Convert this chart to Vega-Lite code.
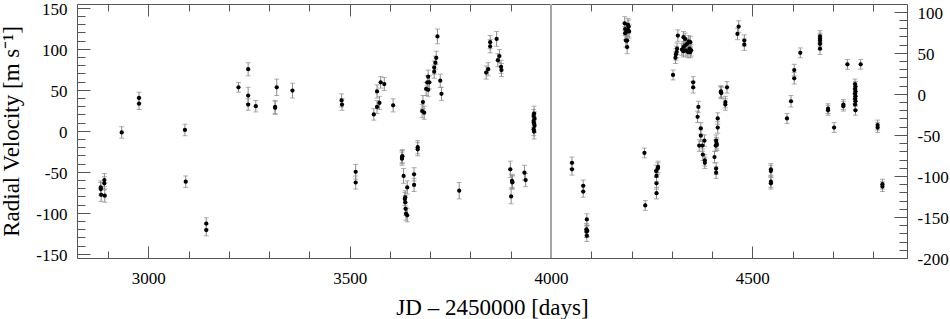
{
  "$schema": "https://vega.github.io/schema/vega-lite/v6.json",
  "width": 830,
  "height": 254,
  "autosize": {"type": "none"},
  "padding": {"left": 77, "top": 4, "right": 43, "bottom": 61},
  "background": "white",
  "config": {
    "view": {"stroke": null},
    "font": "Liberation Serif",
    "axis": {
      "domainColor": "#555",
      "tickColor": "#555",
      "labelColor": "black",
      "labelFont": "Liberation Serif",
      "labelFontSize": 17,
      "labelOverlap": false,
      "titleFont": "Liberation Serif",
      "titleFontSize": 23,
      "titleFontWeight": "normal",
      "titleColor": "black",
      "grid": false
    }
  },
  "datasets": {
    "rv": [
      {"jd": 2882, "rv": -69, "e": 8}, {"jd": 2882, "rv": -71, "e": 8}, {"jd": 2883, "rv": -78, "e": 8},
      {"jd": 2891, "rv": -60, "e": 8}, {"jd": 2891, "rv": -64, "e": 8}, {"jd": 2892, "rv": -79, "e": 8},
      {"jd": 2934, "rv": -2, "e": 7},
      {"jd": 2977, "rv": 40, "e": 7}, {"jd": 2977, "rv": 33, "e": 7},
      {"jd": 3091, "rv": 1, "e": 7}, {"jd": 3093, "rv": -62, "e": 7},
      {"jd": 3144, "rv": -113, "e": 7}, {"jd": 3144, "rv": -121, "e": 7},
      {"jd": 3224, "rv": 53, "e": 6}, {"jd": 3248, "rv": 75, "e": 8}, {"jd": 3248, "rv": 43, "e": 10},
      {"jd": 3248, "rv": 32, "e": 7}, {"jd": 3267, "rv": 30, "e": 7}, {"jd": 3315, "rv": 29, "e": 8},
      {"jd": 3315, "rv": 28, "e": 8}, {"jd": 3319, "rv": 53, "e": 10}, {"jd": 3358, "rv": 49, "e": 9},
      {"jd": 3480, "rv": 37, "e": 8}, {"jd": 3481, "rv": 32, "e": 7}, {"jd": 3515, "rv": -50, "e": 9},
      {"jd": 3515, "rv": -63, "e": 8},
      {"jd": 3560, "rv": 20, "e": 7}, {"jd": 3568, "rv": 29, "e": 8}, {"jd": 3568, "rv": 48, "e": 8},
      {"jd": 3574, "rv": 34, "e": 8}, {"jd": 3577, "rv": 59, "e": 7}, {"jd": 3586, "rv": 57, "e": 8},
      {"jd": 3608, "rv": 31, "e": 8},
      {"jd": 3630, "rv": -32, "e": 8}, {"jd": 3630, "rv": -34, "e": 8}, {"jd": 3631, "rv": -31, "e": 8},
      {"jd": 3634, "rv": -55, "e": 9}, {"jd": 3637, "rv": -83, "e": 8}, {"jd": 3638, "rv": -81, "e": 8},
      {"jd": 3638, "rv": -87, "e": 8}, {"jd": 3639, "rv": -95, "e": 8}, {"jd": 3640, "rv": -101, "e": 8},
      {"jd": 3643, "rv": -103, "e": 8}, {"jd": 3643, "rv": -69, "e": 8}, {"jd": 3660, "rv": -53, "e": 8},
      {"jd": 3660, "rv": -66, "e": 8}, {"jd": 3669, "rv": -20, "e": 8}, {"jd": 3669, "rv": -22.5, "e": 8},
      {"jd": 3680, "rv": 24, "e": 8}, {"jd": 3682, "rv": 35, "e": 8}, {"jd": 3685, "rv": 22, "e": 8},
      {"jd": 3690, "rv": 51, "e": 8}, {"jd": 3693, "rv": 59, "e": 8}, {"jd": 3695, "rv": 50, "e": 8},
      {"jd": 3695, "rv": 66, "e": 8}, {"jd": 3698, "rv": 59, "e": 8}, {"jd": 3710, "rv": 72, "e": 8},
      {"jd": 3710, "rv": 77, "e": 8}, {"jd": 3713, "rv": 83, "e": 8}, {"jd": 3715, "rv": 89, "e": 8},
      {"jd": 3718, "rv": 115, "e": 9}, {"jd": 3725, "rv": 61, "e": 8}, {"jd": 3728, "rv": 45, "e": 8},
      {"jd": 3772, "rv": -73, "e": 10},
      {"jd": 3839, "rv": 71, "e": 8}, {"jd": 3844, "rv": 75, "e": 8}, {"jd": 3849, "rv": 108, "e": 8},
      {"jd": 3849, "rv": 103, "e": 8}, {"jd": 3865, "rv": 112, "e": 9}, {"jd": 3868, "rv": 86, "e": 8},
      {"jd": 3872, "rv": 91, "e": 8}, {"jd": 3876, "rv": 78, "e": 8}, {"jd": 3877, "rv": 74, "e": 8},
      {"jd": 3899, "rv": -47, "e": 10}, {"jd": 3901, "rv": -80, "e": 9}, {"jd": 3903, "rv": -61, "e": 8},
      {"jd": 3904, "rv": -63, "e": 8}, {"jd": 3904, "rv": -62, "e": 8}, {"jd": 3934, "rv": -51, "e": 9},
      {"jd": 3937, "rv": -60, "e": 8},
      {"jd": 3958, "rv": 21, "e": 9}, {"jd": 3957, "rv": 18, "e": 8}, {"jd": 3959, "rv": 15, "e": 8},
      {"jd": 3957, "rv": 12, "e": 8}, {"jd": 3958, "rv": 9, "e": 8}, {"jd": 3959, "rv": 6, "e": 8},
      {"jd": 3957, "rv": 2, "e": 8}, {"jd": 3958, "rv": -1, "e": 9},
      {"jd": 4052, "rv": -39, "e": 7}, {"jd": 4052, "rv": -47, "e": 7}, {"jd": 4080, "rv": -67, "e": 7},
      {"jd": 4080, "rv": -74, "e": 7}, {"jd": 4089, "rv": -108, "e": 7}, {"jd": 4088, "rv": -120, "e": 7},
      {"jd": 4090, "rv": -122, "e": 7}, {"jd": 4088, "rv": -123, "e": 7}, {"jd": 4089, "rv": -128, "e": 7},
      {"jd": 4183, "rv": 131, "e": 8}, {"jd": 4191, "rv": 129, "e": 8}, {"jd": 4193, "rv": 127, "e": 8},
      {"jd": 4184, "rv": 124, "e": 8}, {"jd": 4191, "rv": 123, "e": 8}, {"jd": 4188, "rv": 121, "e": 8},
      {"jd": 4194, "rv": 121, "e": 8}, {"jd": 4184, "rv": 119, "e": 8}, {"jd": 4186, "rv": 110, "e": 8},
      {"jd": 4189, "rv": 110, "e": 8}, {"jd": 4189, "rv": 102, "e": 8},
      {"jd": 4232, "rv": -27, "e": 6}, {"jd": 4234, "rv": -91, "e": 6},
      {"jd": 4261, "rv": -49, "e": 7}, {"jd": 4262, "rv": -55, "e": 7}, {"jd": 4262, "rv": -64, "e": 7},
      {"jd": 4262, "rv": -76, "e": 7}, {"jd": 4265, "rv": -46, "e": 7}, {"jd": 4266, "rv": -44, "e": 7},
      {"jd": 4303, "rv": 68, "e": 6}, {"jd": 4309, "rv": 89, "e": 7}, {"jd": 4310, "rv": 93, "e": 7},
      {"jd": 4312, "rv": 96, "e": 7}, {"jd": 4313, "rv": 100, "e": 7}, {"jd": 4315, "rv": 116, "e": 7},
      {"jd": 4329, "rv": 114, "e": 7}, {"jd": 4333, "rv": 112, "e": 7}, {"jd": 4333, "rv": 104, "e": 7},
      {"jd": 4329, "rv": 102, "e": 7}, {"jd": 4325, "rv": 99, "e": 7}, {"jd": 4338, "rv": 106, "e": 7},
      {"jd": 4342, "rv": 109, "e": 7}, {"jd": 4346, "rv": 108, "e": 7}, {"jd": 4344, "rv": 100, "e": 7},
      {"jd": 4340, "rv": 96, "e": 7}, {"jd": 4346, "rv": 96, "e": 7}, {"jd": 4348, "rv": 98, "e": 7},
      {"jd": 4335, "rv": 98, "e": 7}, {"jd": 4329, "rv": 97, "e": 7},
      {"jd": 4353, "rv": 59, "e": 7}, {"jd": 4353, "rv": 53, "e": 7}, {"jd": 4366, "rv": 29, "e": 7},
      {"jd": 4364, "rv": 17, "e": 7}, {"jd": 4372, "rv": 3, "e": 7}, {"jd": 4372, "rv": -6, "e": 7},
      {"jd": 4368, "rv": -18, "e": 7}, {"jd": 4376, "rv": -18, "e": 7}, {"jd": 4381, "rv": -12, "e": 7},
      {"jd": 4377, "rv": -29, "e": 7}, {"jd": 4382, "rv": -36, "e": 7}, {"jd": 4382, "rv": -39, "e": 7},
      {"jd": 4414, "rv": 15, "e": 7}, {"jd": 4414, "rv": 4, "e": 7}, {"jd": 4410, "rv": -12, "e": 7},
      {"jd": 4411, "rv": -15, "e": 7}, {"jd": 4409, "rv": -18, "e": 7}, {"jd": 4412, "rv": -17, "e": 7},
      {"jd": 4406, "rv": -32, "e": 7}, {"jd": 4410, "rv": -46, "e": 7}, {"jd": 4410, "rv": -51, "e": 7},
      {"jd": 4422, "rv": 48, "e": 7}, {"jd": 4423, "rv": 46, "e": 7}, {"jd": 4422, "rv": 47, "e": 7},
      {"jd": 4433, "rv": 35, "e": 7}, {"jd": 4433, "rv": 32, "e": 7}, {"jd": 4437, "rv": 53, "e": 7},
      {"jd": 4463, "rv": 118, "e": 7}, {"jd": 4466, "rv": 127, "e": 7}, {"jd": 4480, "rv": 110, "e": 7},
      {"jd": 4480, "rv": 105, "e": 7},
      {"jd": 4546, "rv": -47, "e": 7}, {"jd": 4546, "rv": -49, "e": 7}, {"jd": 4546, "rv": -62, "e": 7},
      {"jd": 4546, "rv": -64, "e": 7},
      {"jd": 4586, "rv": 15, "e": 6}, {"jd": 4596, "rv": 36, "e": 7}, {"jd": 4604, "rv": 74, "e": 7},
      {"jd": 4604, "rv": 64, "e": 7}, {"jd": 4619, "rv": 95, "e": 6},
      {"jd": 4668, "rv": 115, "e": 7}, {"jd": 4668, "rv": 112, "e": 7}, {"jd": 4668, "rv": 110, "e": 7},
      {"jd": 4668, "rv": 106, "e": 7}, {"jd": 4668, "rv": 100, "e": 7},
      {"jd": 4688, "rv": 27, "e": 6}, {"jd": 4688, "rv": 25, "e": 6}, {"jd": 4703, "rv": 4, "e": 6},
      {"jd": 4726, "rv": 32, "e": 6}, {"jd": 4726, "rv": 30, "e": 6}, {"jd": 4736, "rv": 81, "e": 6},
      {"jd": 4755, "rv": 57, "e": 6}, {"jd": 4756, "rv": 54, "e": 6}, {"jd": 4755, "rv": 51, "e": 6},
      {"jd": 4756, "rv": 48, "e": 6}, {"jd": 4755, "rv": 45, "e": 6}, {"jd": 4756, "rv": 42, "e": 6},
      {"jd": 4755, "rv": 39, "e": 6}, {"jd": 4756, "rv": 36, "e": 6}, {"jd": 4755, "rv": 32, "e": 6},
      {"jd": 4756, "rv": 25, "e": 6},
      {"jd": 4769, "rv": 81, "e": 6}, {"jd": 4811, "rv": 7, "e": 6}, {"jd": 4811, "rv": 4, "e": 6},
      {"jd": 4823, "rv": -65, "e": 6}, {"jd": 4823, "rv": -68, "e": 6}
    ]
  },
  "layer": [
    {
      "data": {"name": "rv"},
      "layer": [
        {
          "mark": {"type": "errorbar", "ticks": true, "size": 5, "color": "#8c8c8c", "thickness": 1},
          "encoding": {
            "x": {
              "field": "jd", "type": "quantitative",
              "scale": {"domain": [2823, 4884], "nice": false, "zero": false},
              "axis": {
                "orient": "bottom",
                "title": "JD – 2450000 [days]",
                "values": [2900, 3000, 3100, 3200, 3300, 3400, 3500, 3600, 3700, 3800, 3900, 4000, 4100, 4200, 4300, 4400, 4500, 4600, 4700, 4800],
                "format": "d",
                "labelExpr": "datum.value % 500 === 0 ? datum.label : ''",
                "tickSize": {"condition": {"test": "datum.value % 500 === 0", "value": -12}, "value": -7},
                "labelPadding": 24,
                "titlePadding": 5
              }
            },
            "y": {
              "field": "rv", "type": "quantitative",
              "scale": {"domain": [-155, 154.5], "nice": false, "zero": false},
              "axis": null
            },
            "yError": {"field": "e"}
          }
        },
        {
          "mark": {"type": "point", "filled": true, "color": "black", "size": 18, "opacity": 1},
          "encoding": {
            "x": {"field": "jd", "type": "quantitative"},
            "y": {"field": "rv", "type": "quantitative", "axis": null}
          }
        }
      ]
    },
    {
      "data": {"values": [{"jd": 4000}]},
      "mark": {"type": "rule", "color": "#a6a6a6", "strokeWidth": 2},
      "encoding": {"x": {"field": "jd", "type": "quantitative", "axis": null}}
    },
    {
      "data": {"values": [{"v": -155}, {"v": 154.5}]},
      "mark": {"type": "point", "opacity": 0},
      "encoding": {
        "y": {
          "field": "v", "type": "quantitative",
          "scale": {"domain": [-155, 154.5], "nice": false, "zero": false},
          "axis": {
            "orient": "left",
            "title": "Radial Velocity [m s⁻¹]",
            "values": [-150, -140, -130, -120, -110, -100, -90, -80, -70, -60, -50, -40, -30, -20, -10, 0, 10, 20, 30, 40, 50, 60, 70, 80, 90, 100, 110, 120, 130, 140, 150],
            "labelExpr": "datum.value % 50 === 0 ? replace(datum.label, '−', '-') : ''",
            "tickSize": {"condition": {"test": "datum.value % 50 === 0", "value": -13}, "value": -8},
            "labelPadding": 23,
            "labelOffset": 1.5,
            "titlePadding": 12
          }
        }
      }
    },
    {
      "data": {"values": [{"jd": 2823, "r": -200}, {"jd": 4884, "r": 109.5}]},
      "mark": {"type": "point", "opacity": 0},
      "encoding": {
        "x": {
          "field": "jd", "type": "quantitative",
          "axis": {
            "orient": "top", "title": null, "labels": false,
            "values": [2900, 3000, 3100, 3200, 3300, 3400, 3500, 3600, 3700, 3800, 3900, 4000, 4100, 4200, 4300, 4400, 4500, 4600, 4700, 4800],
            "tickSize": {"condition": {"test": "datum.value % 500 === 0", "value": -12}, "value": -7}
          }
        },
        "y": {
          "field": "r", "type": "quantitative",
          "scale": {"domain": [-200, 109.5], "nice": false, "zero": false},
          "axis": {
            "orient": "right", "title": null,
            "values": [-200, -190, -180, -170, -160, -150, -140, -130, -120, -110, -100, -90, -80, -70, -60, -50, -40, -30, -20, -10, 0, 10, 20, 30, 40, 50, 60, 70, 80, 90, 100],
            "labelExpr": "datum.value % 50 === 0 ? replace(datum.label, '−', '-') : ''",
            "tickSize": {"condition": {"test": "datum.value % 50 === 0", "value": -13}, "value": -8},
            "labelPadding": 23,
            "labelOffset": 1.5
          }
        }
      }
    }
  ],
  "resolve": {"scale": {"y": "independent"}, "axis": {"x": "independent", "y": "independent"}}
}
